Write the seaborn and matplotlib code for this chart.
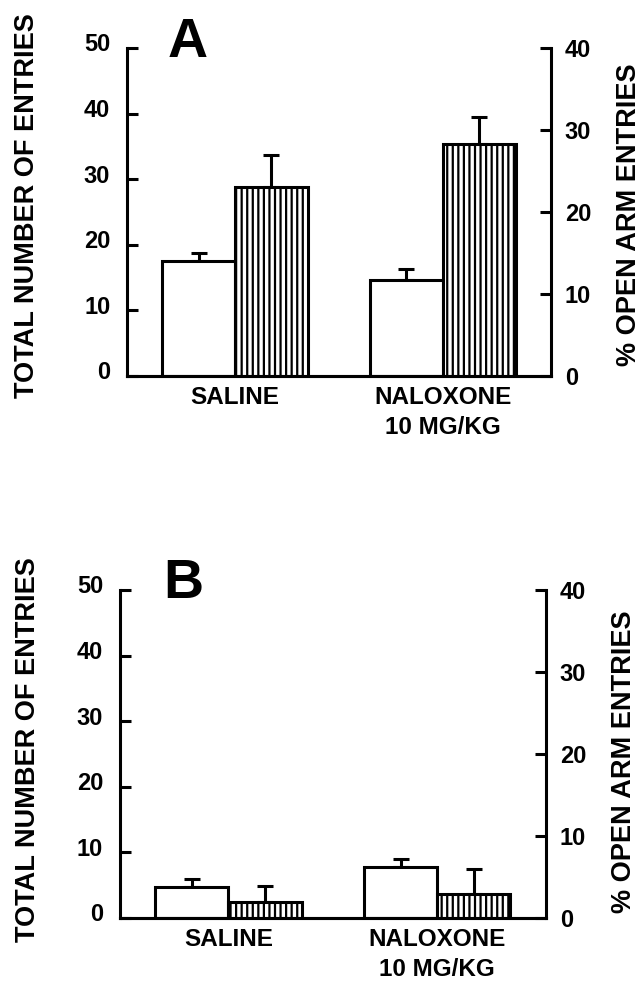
import numpy as np
import pandas as pd
import matplotlib
matplotlib.use('Agg')
import matplotlib.pyplot as plt
import matplotlib.transforms as mtransforms
import seaborn as sns

groups = ['SALINE', 'NALOXONE\n10 MG/KG']

# panel A
total_a = [17.5, 14.7]
total_a_sem = [1.2, 1.6]
open_a = [23.0, 28.3]
open_a_sem = [4.0, 3.3]

# panel B
total_b = [4.8, 7.8]
total_b_sem = [1.1, 1.2]
open_b = [1.9, 2.9]
open_b_sem = [2.0, 3.1]

left_ticks = [0, 10, 20, 30, 40, 50]
right_ticks = [0, 10, 20, 30, 40]

sns.set_theme(style='white')
plt.rcParams['font.family'] = ['Liberation Sans', 'DejaVu Sans']
plt.rcParams['font.weight'] = 'bold'
plt.rcParams['hatch.linewidth'] = 1.6
plt.rcParams['hatch.color'] = 'black'

LW = 2.2


def draw_panel(fig, ax, letter, total, total_sem, pct, pct_sem, letter_pos,
               left_lab, right_lab):
    """Two bars per group: total entries (left axis) and % open arm (right)."""
    ax2 = ax.twinx()
    df_total = pd.DataFrame({'group': groups, 'value': total, 'measure': 'total'})
    df_pct = pd.DataFrame({'group': groups, 'value': pct, 'measure': 'open'})
    for a, df, sem in [(ax, df_total, total_sem), (ax2, df_pct, pct_sem)]:
        sns.barplot(data=df, x='group', y='value', hue='measure',
                    hue_order=['total', 'open'], order=groups, dodge=True,
                    palette={'total': 'white', 'open': 'white'},
                    edgecolor='black', linewidth=LW, width=0.7,
                    errorbar=None, legend=False, ax=a)
        bars = sorted(a.patches, key=lambda p: p.get_x())
        xs = [p.get_x() + p.get_width() / 2 for p in bars]
        hs = [p.get_height() for p in bars]
        a.errorbar(xs, hs, yerr=[np.zeros(len(sem)), sem], fmt='none',
                   ecolor='black', elinewidth=LW, capsize=5.5, capthick=LW,
                   zorder=1)
        for p in bars:
            p.set_zorder(2)
            if a is ax2:
                p.set_hatch('|||')

    ax.set_xlim(-0.52, 1.52)
    ax.set_ylim(0, 50)
    ax2.set_ylim(0, 40)
    ax.set_yticks(left_ticks)
    ax2.set_yticks(right_ticks)
    ax.set_xlabel('')
    ax2.set_xlabel('')

    ax.tick_params(axis='y', left=True, direction='in', length=8, width=LW,
                   labelsize=17, pad=12, colors='black')
    ax2.tick_params(axis='y', right=True, direction='in', length=8, width=LW,
                    labelsize=17, pad=10, colors='black')
    ax.tick_params(axis='x', bottom=False, length=0, labelsize=17.5, pad=7,
                   colors='black')
    for lab in ax.get_xticklabels():
        lab.set_linespacing(1.4)
        lab.set_multialignment('center')
    shift = mtransforms.ScaledTranslation(0, 4 / 72, fig.dpi_scale_trans)
    for lab in ax.get_yticklabels():
        lab.set_transform(lab.get_transform() + shift)

    for a in (ax, ax2):
        for s in a.spines.values():
            s.set_color('black')
            s.set_linewidth(LW)
        a.spines['top'].set_visible(False)
    ax.spines['right'].set_visible(False)
    ax2.spines['left'].set_visible(False)
    ax.spines['left'].set_bounds(0, 50)
    ax2.spines['right'].set_bounds(0, 40)

    ax.set_ylabel('TOTAL NUMBER OF ENTRIES', fontsize=19.5, fontweight='bold',
                  color='black', va='center')
    ax.yaxis.set_label_coords(*left_lab)
    ax2.set_ylabel('% OPEN ARM ENTRIES', fontsize=19.5, fontweight='bold',
                   color='black', va='center', rotation=90)
    ax2.yaxis.set_label_coords(*right_lab)

    ax.text(letter_pos[0], letter_pos[1], letter, transform=ax.transAxes,
            ha='center', va='center', fontsize=40, fontweight='bold',
            color='black')


fig = plt.figure(figsize=(6.41, 9.83), dpi=100)
ax_a = fig.add_axes([0.198, 0.6175, 0.6615, 0.3337])
ax_b = fig.add_axes([0.187, 0.0661, 0.6646, 0.3337])

draw_panel(fig, ax_a, 'A', total_a, total_a_sem, open_a, open_a_sem,
           (0.144, 1.015), (-0.235, 0.518), (1.185, 0.492))
draw_panel(fig, ax_b, 'B', total_b, total_b_sem, open_b, open_b_sem,
           (0.15, 1.018), (-0.215, 0.512), (1.184, 0.477))

fig.savefig('out.png', dpi=100, facecolor='white')
